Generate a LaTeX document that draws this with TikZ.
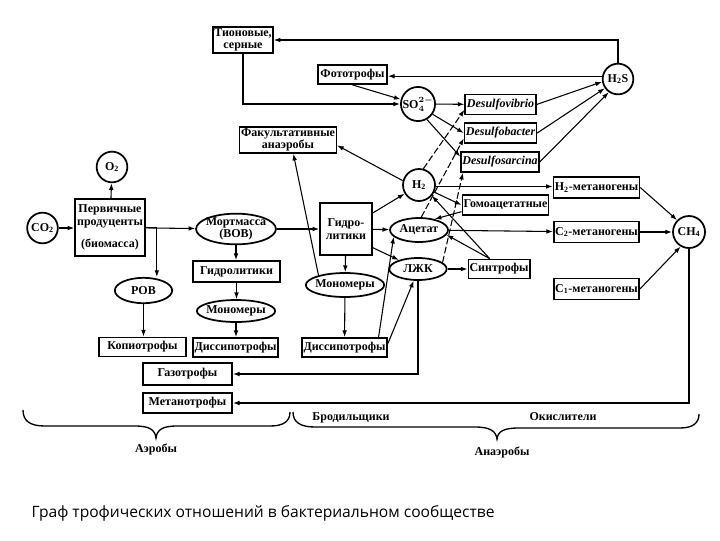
\documentclass[tikz,border=0pt]{standalone}
\usepackage{fontspec}
\setmainfont{Liberation Serif}
\newfontfamily\capfont{Open Sans}
\usetikzlibrary{arrows.meta,shapes.geometric}
\tikzset{%
  box/.style    = {shape=rectangle, draw, line width=1.1pt, align=center,%
                   inner sep=1pt, font=\bfseries\fontsize{9}{9.5}\selectfont},%
  desbox/.style = {box, font=\bfseries\itshape\fontsize{9}{9.5}\selectfont},%
  oval/.style   = {ellipse, draw, line width=1.3pt, align=center,%
                   inner xsep=-1.5pt, inner ysep=-1pt, font=\bfseries\fontsize{9}{9.5}\selectfont},%
  gas/.style    = {circle, draw, line width=1.3pt, inner sep=0pt,%
                   minimum size=23pt, font=\bfseries\fontsize{9}{9.5}\selectfont},%
  flow/.style   = {-{Latex[length=5pt,width=3.5pt]}, line width=0.8pt},%
  sulf/.style   = {flow, dash pattern=on 5pt off 2pt},%
  grouplabel/.style = {font=\bfseries\fontsize{9}{9.5}\selectfont}%
}
\begin{document}
\begin{tikzpicture}[x=0.75pt, y=-0.75pt]
  \useasboundingbox (0,0) rectangle (720,540);
  % -------------- sulfur cycle --------------------------------------
  \node[box, minimum width=45pt, minimum height=19.5pt] (Tion) at (243,40) {Тионовые,\\серные};
  \node[box, minimum width=52pt, minimum height=14.5pt] (Photo) at (352.5,74.5) {Фототрофы};
  \node[gas] (SO) at (418,104) {SO{\boldmath$_4^{2-}$}};
  \node[gas] (HS) at (618,79) {H\textsubscript{2}S};
  \node[desbox, minimum width=53pt, minimum height=15pt] (DV) at (500.5,104.5) {Desulfovibrio};
  \node[desbox, minimum width=53pt, minimum height=15pt] (DB) at (500.5,133) {Desulfobacter};
  \node[desbox, minimum width=53pt, minimum height=15pt] (DS) at (500,162) {Desulfosarcina};
  \node[box, minimum width=69pt, minimum height=19.5pt] (Fak) at (288,140) {Факультативные\\анаэробы};
  % -------------- primary production, aerobes ------------------------
  \node[gas] (O2) at (112,167) {O\textsubscript{2}};
  \node[gas] (CO) at (42.5,228) {CO\textsubscript{2}};
  \node[box, minimum width=52.5pt, minimum height=43pt] (Prod) at (110,227.5) {Первичные\\продуценты\\[7pt](биомасса)};
  \node[oval, minimum width=56pt, minimum height=23pt] (Mort) at (236,229) {Мортмасса\\(ВОВ)};
  \node[box, minimum width=65pt, minimum height=16pt] (Hyd1) at (236.5,271.5) {Гидролитики};
  \node[oval, minimum width=43pt, minimum height=19pt] (ROB) at (143.5,290.5) {РОВ};
  \node[oval, minimum width=51pt, minimum height=16.5pt] (Mon1) at (236,311) {Мономеры};
  \node[box, minimum width=65pt, minimum height=14.5pt] (Kop) at (142.5,347) {Копиотрофы};
  \node[box, minimum width=64pt, minimum height=14.5pt] (Dis1) at (235.5,347.5) {Диссипотрофы};
  \node[box, minimum width=67pt, minimum height=16.5pt] (Gaz) at (187.5,374) {Газотрофы};
  \node[box, minimum width=67pt, minimum height=15pt] (Met) at (187.5,403) {Метанотрофы};
  % -------------- anaerobic chain ----------------------------------
  \node[box, minimum width=39pt, minimum height=39pt] (Hyd2) at (346,229) {Гидро-\\литики};
  \node[oval, minimum width=52.5pt, minimum height=18pt] (Mon2) at (345,285) {Мономеры};
  \node[box, minimum width=64pt, minimum height=14.5pt] (Dis2) at (344.5,347.5) {Диссипотрофы};
  \node[gas, minimum size=24pt] (H2) at (419,185) {H\textsubscript{2}};
  \node[oval, minimum width=43.5pt, minimum height=18pt] (Ac) at (419,230) {Ацетат};
  \node[oval, minimum width=43pt, minimum height=16.5pt] (LJK) at (418,269) {ЛЖК};
  \node[box, minimum width=64pt, minimum height=15pt] (Hom) at (505.5,205) {Гомоацетатные};
  \node[box, minimum width=43.5pt, minimum height=14.5pt] (Syn) at (499,269) {Синтрофы};
  \node[box, minimum width=62pt, minimum height=16pt] (H2met) at (596.5,187.5) {H\textsubscript{2}-метаногены};
  \node[box, minimum width=62pt, minimum height=16pt] (C2met) at (596.5,232) {C\textsubscript{2}-метаногены};
  \node[box, minimum width=62pt, minimum height=16pt] (C1met) at (596.5,289) {C\textsubscript{1}-метаногены};
  \node[gas, minimum size=24pt] (CH) at (689,232) {CH\textsubscript{4}};
  % -------------- connectors ---------------------------------------
  \draw[flow] (CO) -- (CO -| Prod.west);
  \draw[flow] (Prod) -- (O2);
  \draw[flow] (Prod) -- (Mort);
  \draw[flow] (Prod.east) -| ([xshift=10pt]ROB.north);
  \draw[flow] (ROB) -- (ROB |- Kop.north);
  \draw[flow] (Mort) -- (Mort |- Hyd1.north);
  \draw[flow] (Hyd1) -- (Hyd1 |- Mon1.north);
  \draw[flow] (Mon1) -- (Mon1 |- Dis1.north);
  \draw[flow] (Mort) -- (Hyd2);
  \draw[flow] (Hyd2) -- (Mon2);
  \draw[flow] (Mon2) -- (Dis2);
  \draw[flow] (Mon2.160) -- ([xshift=4pt]Fak.south);
  \draw[flow] (H2.165) -- ([yshift=-4pt]Fak.east);
  \draw[flow] ([yshift=12pt]Hyd2.east) -- (H2);
  \draw[flow] (Hyd2) -- (Ac);
  \draw[flow] ([yshift=-14pt]Hyd2.east) -- (LJK);
  \draw[flow] ([xshift=-7pt]Dis2.north east) -- (Ac.-165);
  \draw[flow] ([yshift=3pt]Dis2.east) -- (LJK.-110);
  \draw[flow] (LJK.south) |- (Gaz.east);
  \draw[flow] (CH.south) |- (Met.east);
  \draw[flow] (Tion.south) |- (SO.west);
  \draw[flow] (Photo.south) -- (SO.165);
  \draw[flow] (HS.170) -- (HS.170 -| Photo.east);
  \draw[flow] (HS.north) |- (Tion.east);
  \draw[flow] (SO) -- (DV);
  \draw[flow] (SO.-35) -- (DB.west);
  \draw[flow] (SO.-60) -- ([yshift=4pt]DS.west);
  \foreach \d/\a in {DV/190, DB/215, DS/235}
    \draw[flow] (\d.east) -- (HS.\a);
  \draw[sulf] (H2.75) -- ([yshift=-4pt]DV.west);
  \draw[sulf] (Ac.80) -- ([yshift=-4pt]DB.west);
  \draw[sulf] (LJK.15) -- ([xshift=2pt]DS.south west);
  \draw[flow] (H2.-25) -- (Hom.west);
  \draw[flow] ([yshift=-5pt]Hom.west) -- (Ac.35);
  \draw[flow] ([xshift=-7pt]Syn.north) -- (H2.-40);
  \draw[flow] ([xshift=-7pt]Syn.north) -- (Ac.-10);
  \draw[flow] (LJK) -- (Syn);
  \draw[flow] (H2.-5) -- (H2.-5 -| H2met.west);
  \draw[flow] (Ac) -- (C2met);
  \draw[flow] (H2met.east) -- (CH.135);
  \draw[flow, line width=2pt] (C2met) -- (CH);
  \draw[flow] (C1met.east) -- (CH.-120);
  % -------------- groups -------------------------------------------
  \draw[line width=1pt] (23,410) .. controls (23,421) and (30,426) .. (45,426) -- (135,426)
    .. controls (150,426) and (155,430) .. (156,438) .. controls (157,430) and (162,426) .. (177,426)
    -- (270,426) .. controls (284,426) and (290,421) .. (290,412);
  \draw[line width=1pt] (293,412) .. controls (293,422) and (300,427) .. (315,427) -- (475,427)
    .. controls (490,427) and (496,431) .. (497,439) .. controls (498,431) and (504,428) .. (519,428)
    -- (680,428) .. controls (694,428) and (699,422) .. (699,414);
  \node[grouplabel] (aer) at (156,449) {Аэробы};
  \node[grouplabel] (anaer) at (502,452) {Анаэробы};
  \node[grouplabel] (ferm) at (351,418) {Бродильщики};
  \node[grouplabel] (oxid) at (563,417) {Окислители};
  \node[anchor=west, font=\capfont\fontsize{11.7}{14}\selectfont] (cap) at (27,513)
    {Граф трофических отношений в бактериальном сообществе};
\end{tikzpicture}
\end{document}
